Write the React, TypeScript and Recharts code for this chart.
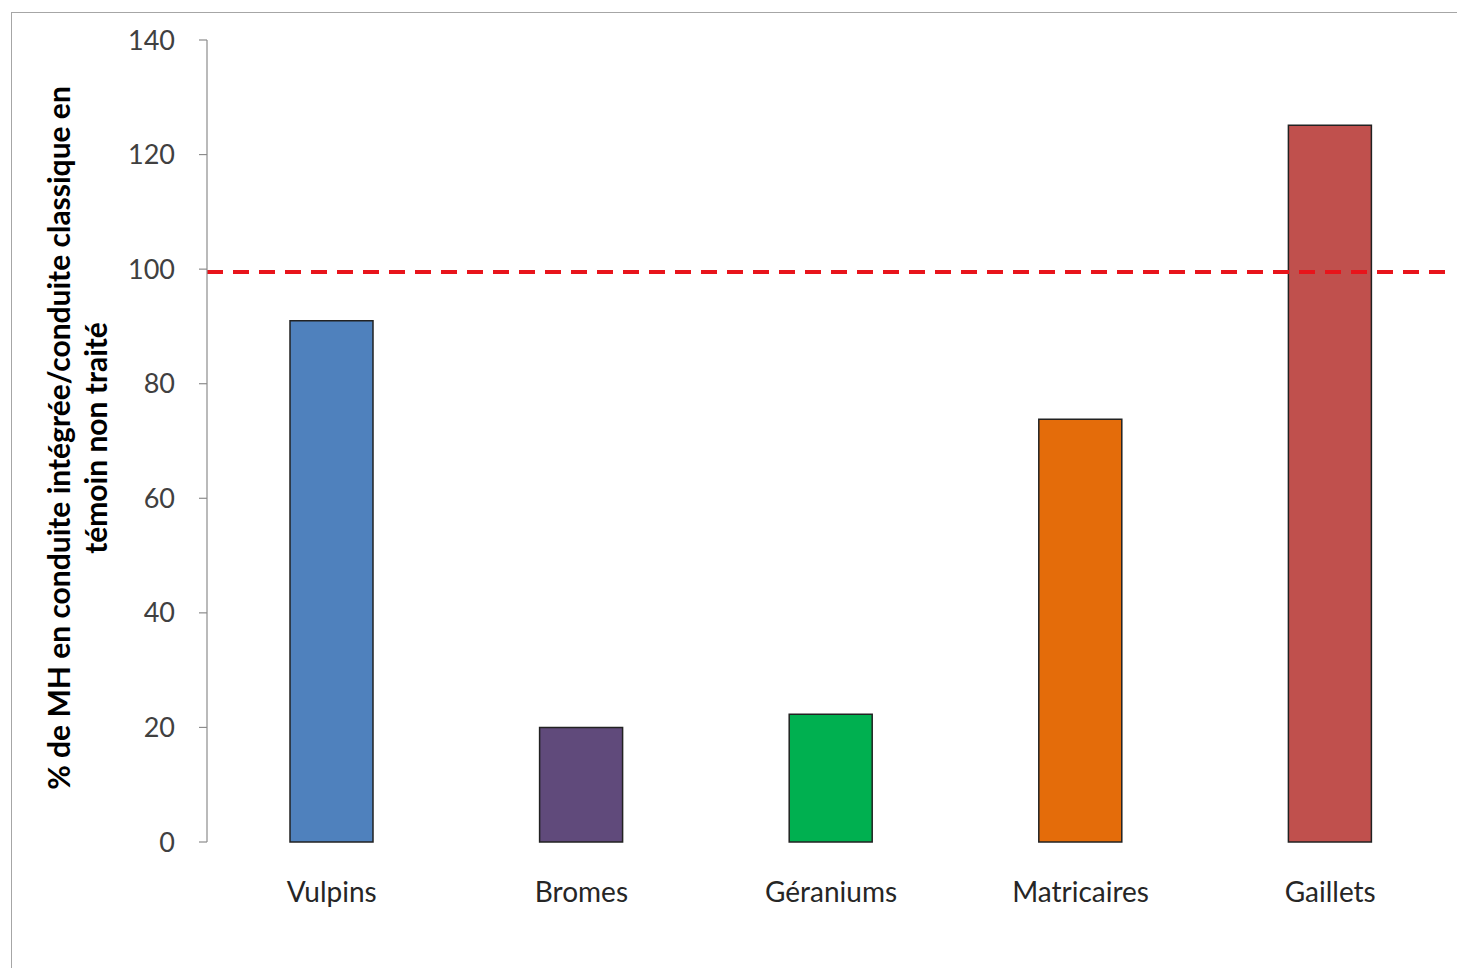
import React from "react";
import { BarChart, Bar, Cell, XAxis, YAxis, ReferenceLine } from "recharts";

const categories = ["Vulpins", "Bromes", "Géraniums", "Matricaires", "Gaillets"];
const values = [91, 20, 22.3, 73.8, 125.1];
const barColors = ["#4F81BD", "#604A7B", "#00B050", "#E46C0A", "#C0504D"];
const yTicks = [0, 20, 40, 60, 80, 100, 120, 140];
const edgeTicks = [0, 1, 2, 3, 4, 5];
const referenceValue = 99.5;
const yLabelLines = ["% de MH en conduite intégrée/conduite classique en", "témoin non traité"];

const data = categories.map((name, i) => ({ name, value: values[i] }));

const FONT = "Lato, 'Open Sans', sans-serif";

function YLabel(props: any) {
  const vb = props.viewBox || {};
  const cx = vb.x - 47;
  const cy = vb.y + vb.height / 2 - 3;
  return (
    <text
      transform={`rotate(-90, ${cx}, ${cy})`}
      x={cx}
      y={cy}
      textAnchor="middle"
      fontFamily={FONT}
      fontWeight="bold"
      fontSize={30}
      fill="#000"
    >
      <tspan x={cx} dy={-10}>{yLabelLines[0]}</tspan>
      <tspan x={cx} dy={37}>{yLabelLines[1]}</tspan>
    </text>
  );
}

export default function App() {
  return (
    <div style={{ position: "absolute", left: 0, top: 0, width: 1457, height: 968, overflow: "hidden", background: "#fff" }}>
      <div
        style={{
          position: "absolute",
          left: 11,
          top: 12,
          width: 1470,
          height: 980,
          border: "1.5px solid #a6a6a6",
        }}
      />
      <div style={{ position: "absolute", left: 0, top: 0 }}>
        <BarChart
          width={1457}
          height={968}
          data={data}
          margin={{ top: 40, right: 2, bottom: 0, left: 127 }}
          barCategoryGap={0}
        >
          <XAxis
            dataKey="name"
            xAxisId="cat"
            axisLine={false}
            tickLine={false}
            tickSize={0}
            tickMargin={40}
            height={126}
            tick={{ fontFamily: FONT, fontSize: 28, fill: "#262626" }}
            interval={0}
          />
          <XAxis
            xAxisId="edges"
            type="number"
            domain={[0, 5]}
            ticks={edgeTicks}
            axisLine={{ stroke: "#8c8c8c", strokeWidth: 1.2 }}
            tickLine={{ stroke: "#8c8c8c", strokeWidth: 1.2 }}
            tickSize={8}
            tickFormatter={() => ""}
            height={0}
          />
          <YAxis
            width={80}
            domain={[0, 140]}
            ticks={yTicks}
            interval={0}
            axisLine={{ stroke: "#8c8c8c", strokeWidth: 1.2 }}
            tickLine={{ stroke: "#8c8c8c", strokeWidth: 1.2 }}
            tickSize={8}
            tickMargin={24}
            tick={{ fontFamily: FONT, fontSize: 27, fill: "#404040" }}
            label={<YLabel />}
          />
          <Bar dataKey="value" xAxisId="cat" barSize={83} stroke="#222" strokeWidth={1.5} isAnimationActive={false}>
            {data.map((d, i) => (
              <Cell key={d.name} fill={barColors[i]} />
            ))}
          </Bar>
          <ReferenceLine
            y={referenceValue}
            xAxisId="cat"
            stroke="#E8141B"
            strokeWidth={4}
            strokeDasharray="16 10"
          />
        </BarChart>
      </div>
    </div>
  );
}
